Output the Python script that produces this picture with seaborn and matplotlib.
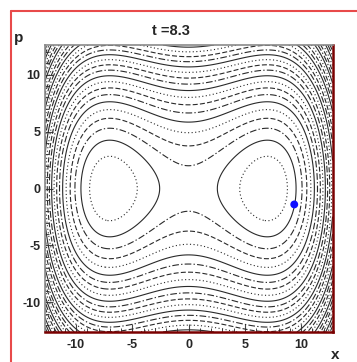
import numpy as np
import matplotlib
matplotlib.use("Agg")
import matplotlib.pyplot as plt
import seaborn as sns
import pandas as pd
from matplotlib.lines import Line2D
from matplotlib.ticker import MultipleLocator

# ---- data ----
well_center = 7.0          # position of the two potential minima
well_strength = 0.005      # quartic coefficient of the double well
energy_levels = [4, 9, 14, 19, 24, 29, 34, 39, 44, 49, 54, 59, 64, 69, 74,
                 79, 84, 89, 94, 99, 104, 109, 114, 119, 124, 129, 134, 139, 144]
x_limits = [-12.8, 12.8]
p_limits = [-12.6, 12.6]
x_ticks = [-10, -5, 0, 5, 10]
p_ticks = [-10, -5, 0, 5, 10]
particle_x = [9.4]
particle_p = [-1.4]
time_label = "t =8.3"
x_label = "x"
p_label = "p"

# ---- style ----
sns.set_style("ticks")
plt.rcParams['font.family'] = ['Liberation Sans', 'DejaVu Sans']
plt.rcParams['axes.unicode_minus'] = False

W, H = 357, 362
fig = plt.figure(figsize=(W / 100, H / 100), dpi=100)
fig.patch.set_facecolor("white")

ax = fig.add_axes([44.5 / W, (H - 332) / H, 288 / W, 287 / H])
ax.set_facecolor("white")

# phase-space grid and Hamiltonian
xs = np.linspace(x_limits[0], x_limits[1], 700)
ps = np.linspace(p_limits[0], p_limits[1], 700)
X, P = np.meshgrid(xs, ps)
Hm = 0.5 * P ** 2 + well_strength * (X ** 2 - well_center ** 2) ** 2

style_cycle = [(0, (1, 2.2)), 'solid', (0, (6, 2, 1.2, 2)), (0, (4.5, 2))]
styles = [style_cycle[i % len(style_cycle)] for i in range(len(energy_levels))]
ax.contour(X, P, Hm, levels=energy_levels, colors='#2a2a2a',
           linewidths=0.8, linestyles=styles)

pt = pd.DataFrame({"x": particle_x, "p": particle_p})
sns.scatterplot(data=pt, x="x", y="p", ax=ax, color="#1010ff", s=32,
                edgecolor="none", zorder=5)

ax.set_xlim(x_limits)
ax.set_ylim(p_limits)
ax.set_xticks(x_ticks)
ax.set_yticks(p_ticks)
ax.xaxis.set_minor_locator(MultipleLocator(1))
ax.yaxis.set_minor_locator(MultipleLocator(1))
ax.set_xlabel("")
ax.set_ylabel("")
ax.tick_params(which='major', direction='in', length=6, width=0.8,
               color='#444444', labelsize=9,
               bottom=True, left=True, top=False, right=False)
ax.tick_params(axis='x', which='major', pad=5)
ax.tick_params(axis='y', which='major', pad=3)
ax.tick_params(which='minor', direction='in', length=3, width=0.7,
               color='#444444', bottom=True, left=True, top=False, right=False)
for lab in ax.get_xticklabels() + ax.get_yticklabels():
    lab.set_fontweight('bold')

for side in ['left', 'top']:
    ax.spines[side].set_color('#8a8a8a')
    ax.spines[side].set_linewidth(1.2)
for side in ['right', 'bottom']:
    ax.spines[side].set_color('#7a0000')
    ax.spines[side].set_linewidth(1.8)
    ax.spines[side].set_visible(True)

# labels and title as figure texts
fig.text(171 / W, 1 - 31 / H, time_label, ha='center', va='center',
         fontsize=10.5, fontweight='bold')
fig.text(19 / W, 1 - 38 / H, p_label, ha='center', va='center',
         fontsize=11, fontweight='bold')
fig.text(335 / W, 1 - 355 / H, x_label, ha='center', va='center',
         fontsize=11, fontweight='bold')

# red outer frame (top and left visible)
fig.add_artist(Line2D([10.5 / W, 10.5 / W], [0, 1 - 10.5 / H],
                      transform=fig.transFigure, color='#e84a4a', lw=1.5))
fig.add_artist(Line2D([10.5 / W, 1], [1 - 10.5 / H, 1 - 10.5 / H],
                      transform=fig.transFigure, color='#e84a4a', lw=1.5))

fig.savefig("out.png", dpi=100, facecolor="white")
